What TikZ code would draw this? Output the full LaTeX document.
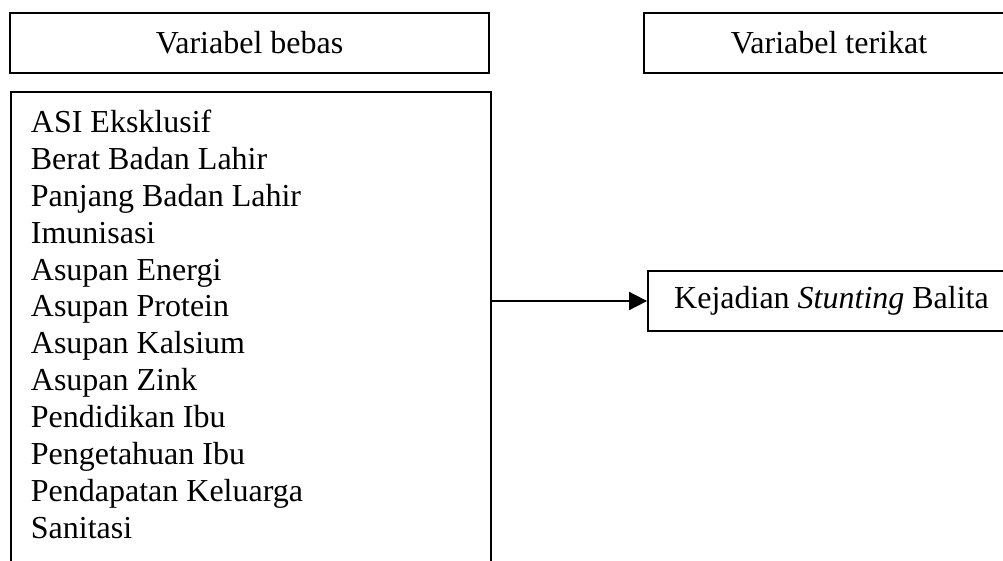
\documentclass[tikz,border=0pt]{standalone}
\usepackage{fontspec}
\setmainfont{Liberation Serif}
\usetikzlibrary{arrows.meta,positioning}
\tikzset{
  kotak/.style={
    rectangle,
    draw=black,
    line width=1.8pt,
    inner sep=0pt
  },
}
\begin{document}
\begin{tikzpicture}[x=1pt,y=-1pt,>={Triangle[length=18pt,width=18pt]},line width=1.8pt,font=\fontsize{32}{36.9}\selectfont]

  \useasboundingbox (0,0) rectangle (1003,560);
  \clip (0,0) rectangle (1003,560);

  \node[kotak,minimum width=479pt,minimum height=60pt]   (bebas)   at (249.5,43)  {Variabel bebas};
  \node[kotak,minimum width=370pt,minimum height=60pt]   (terikat) at (829,43)    {Variabel terikat};

  \node[kotak,anchor=north west,minimum width=480pt,minimum height=520pt] (kotakbebas) at (10,91) {};
  \node[anchor=north west,align=left,inner sep=0pt] (daftar) at (30,109) {ASI Eksklusif\\
    Berat Badan Lahir\\
    Panjang Badan Lahir\\
    Imunisasi\\
    Asupan Energi\\
    Asupan Protein\\
    Asupan Kalsium\\
    Asupan Zink\\
    Pendidikan Ibu\\
    Pengetahuan Ibu\\
    Pendapatan Keluarga\\
    Sanitasi};

  \node[kotak,minimum width=367pt,minimum height=60pt]   (kejadian) at (831.5,301) {Kejadian \textit{Stunting} Balita};

  \draw[->] (kotakbebas.east |- kejadian.west) -- (kejadian.west);

\end{tikzpicture}
\end{document}
